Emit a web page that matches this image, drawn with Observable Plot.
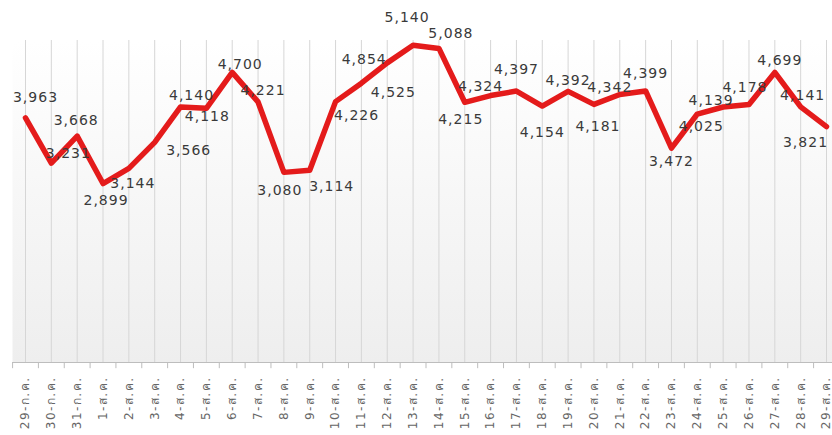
<!DOCTYPE html>
<html><head><meta charset="utf-8">
<script src="https://cdn.jsdelivr.net/npm/d3@7"></script>
<script src="https://cdn.jsdelivr.net/npm/@observablehq/plot@0.6"></script>
<style>
body{margin:0;background:#fff;}
#chart svg text{font-family:"DejaVu Sans","Noto Sans",sans-serif;}
#chart g[aria-label="text"] text{letter-spacing:1px;}
#chart g[aria-label="x-axis tick label"] text{letter-spacing:1.5px;}
</style></head><body><div id="chart"></div>
<script>
const dates = ["29-ก.ค.","30-ก.ค.","31-ก.ค.","1-ส.ค.","2-ส.ค.","3-ส.ค.","4-ส.ค.","5-ส.ค.","6-ส.ค.","7-ส.ค.","8-ส.ค.","9-ส.ค.","10-ส.ค.","11-ส.ค.","12-ส.ค.","13-ส.ค.","14-ส.ค.","15-ส.ค.","16-ส.ค.","17-ส.ค.","18-ส.ค.","19-ส.ค.","20-ส.ค.","21-ส.ค.","22-ส.ค.","23-ส.ค.","24-ส.ค.","25-ส.ค.","26-ส.ค.","27-ส.ค.","28-ส.ค.","29-ส.ค."];
const cases = [3963,3231,3668,2899,3144,3566,4140,4118,4700,4221,3080,3114,4226,4525,4854,5140,5088,4215,4324,4397,4154,4392,4181,4342,4399,3472,4025,4139,4178,4699,4141,3821];
// label nudges (px) relative to each point, as placed in the original
const labelDx = [10,17,-1,3,4,34,11,1,8,5,-4,22,21,32,-23,-6,12,-4,-10,0,0,0,4,-10,0,0,4,-12,-4,5,2,-21];
const labelDy = [-20,-10,-16,17,15,8,-11,8,-8,-11,18,16,14,9,-3,-28,-15,17,-9,-22,26,-11,22,-7,-17,13,12,-6,-17,-12,-11,16];

const idx = dates.map((d, i) => i);
const bounds = d3.range(dates.length + 1).map(i => i - 0.5);
const rows = idx.map(i => ({i, date: dates[i], value: cases[i]}));
const fmt = d3.format(",");

const labelMarks = rows.map(r => Plot.text([r], {
  x: "i", y: "value", text: d => fmt(d.value),
  dx: labelDx[r.i], dy: labelDy[r.i], fontSize: 14, fill: "#3a3a3a"
}));

const plot = Plot.plot({
  width: 832, height: 435,
  marginTop: 40, marginBottom: 73, marginLeft: 12, marginRight: 0,
  x: {domain: [0, dates.length - 1], range: [25, 826]},
  y: {domain: [0, 5200], range: [362, 41], axis: null},
  marks: [
    Plot.frame({fill: "url(#bg)", stroke: "none"}),
    Plot.ruleX(idx, {x: d => d, stroke: "#d6d6d6"}),
    Plot.ruleY([0], {stroke: "#bdbdbd"}),
    Plot.ruleX(bounds, {x: d => d, y1: 0, y2: -100, stroke: "#bdbdbd"}),
    Plot.axisX(idx, {anchor: "bottom", tickFormat: i => dates[i], tickRotate: -90, tickSize: 0, tickPadding: 14, fontSize: 12, color: "#666666", label: null}),
    Plot.line(rows, {x: "i", y: "value", stroke: "#e41b1b", strokeWidth: 5.5, strokeLinejoin: "round", strokeLinecap: "round"}),
    ...labelMarks
  ]
});
d3.select(plot).insert("defs", ":first-child").html(
  '<linearGradient id="bg" x1="0" y1="0" x2="0" y2="1"><stop offset="0" stop-color="#ffffff"/><stop offset="1" stop-color="#eeeeee"/></linearGradient>');
document.getElementById("chart").appendChild(plot);
</script></body></html>
